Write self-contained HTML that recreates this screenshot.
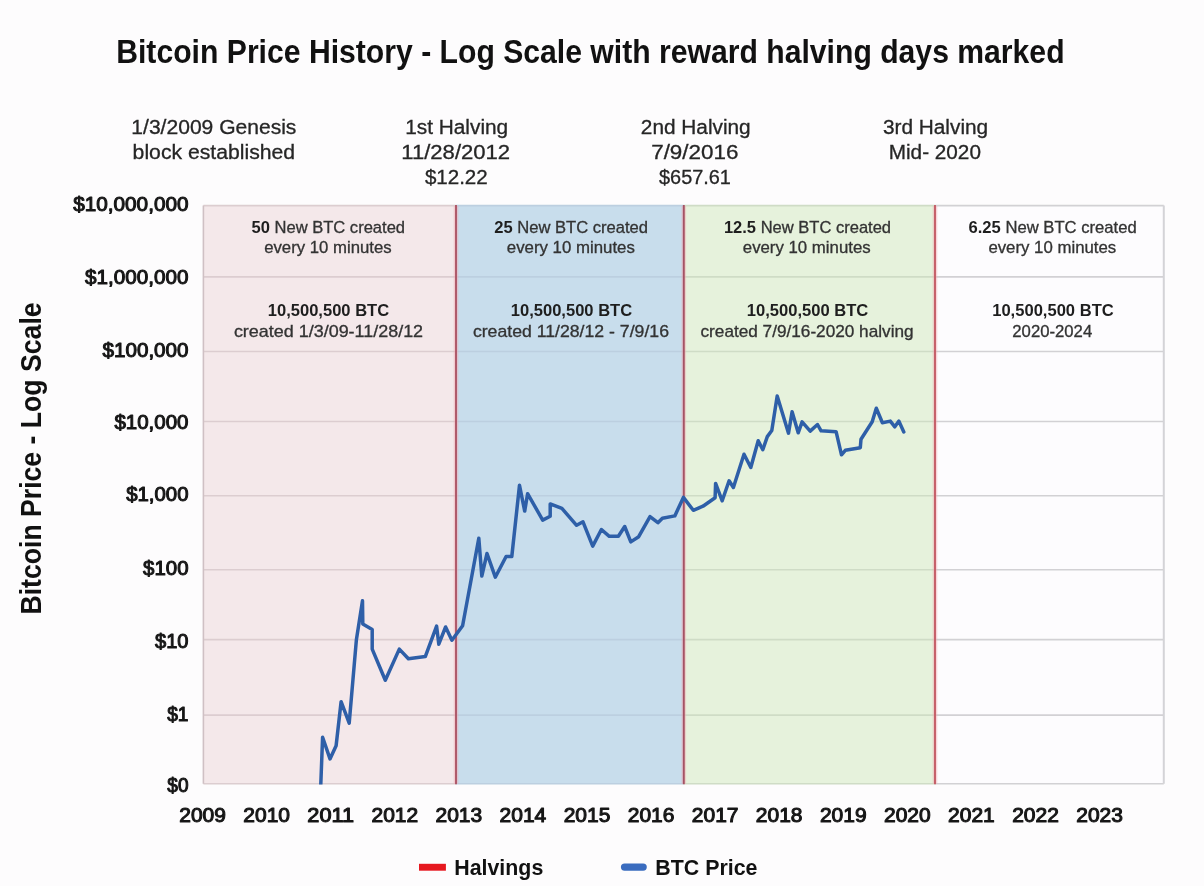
<!DOCTYPE html>
<html lang="en"><head><meta charset="utf-8">
<title>Bitcoin Price History - Log Scale with reward halving days marked</title>
<style>
html,body{margin:0;padding:0;background:#fdfcfd;}
body{width:1204px;height:886px;overflow:hidden;}
svg{display:block;}
text{font-family:"Liberation Sans", Arial, Helvetica, sans-serif;}
.b{font-weight:bold;}
.t{fill:#111;font-weight:bold;}
.a{fill:#262626;stroke:#262626;stroke-width:0.3px;}
.y{fill:#161616;stroke:#161616;stroke-width:1.05px;stroke-linejoin:round;}
.n{fill:#333;stroke:#333;stroke-width:0.3px;}
.nb{fill:#1e1e1e;font-weight:bold;stroke:none;}
</style></head><body>
<svg width="1204" height="886" viewBox="0 0 1204 886">
<rect x="0" y="0" width="1204" height="886" fill="#fdfcfd"/>
<defs><clipPath id="pc"><rect x="203.4" y="205.6" width="960.4" height="579.0"/></clipPath></defs>
<rect x="203.4" y="205.6" width="252.6" height="578.2" fill="#f4e8ea"/>
<rect x="456.0" y="205.6" width="227.8" height="578.2" fill="#c8ddec"/>
<rect x="683.8" y="205.6" width="251.2" height="578.2" fill="#e6f2dc"/>
<rect x="935.0" y="205.6" width="228.8" height="578.2" fill="#fdfcfe"/>
<line x1="203.4" y1="276.9" x2="456.0" y2="276.9" stroke="#dccdd0" stroke-width="1.6"/>
<line x1="456.0" y1="276.9" x2="683.8" y2="276.9" stroke="#bccfe0" stroke-width="1.6"/>
<line x1="683.8" y1="276.9" x2="935.0" y2="276.9" stroke="#cfdcc6" stroke-width="1.6"/>
<line x1="935.0" y1="276.9" x2="1163.8" y2="276.9" stroke="#d2d1d4" stroke-width="1.6"/>
<line x1="203.4" y1="351.5" x2="456.0" y2="351.5" stroke="#dccdd0" stroke-width="1.6"/>
<line x1="456.0" y1="351.5" x2="683.8" y2="351.5" stroke="#bccfe0" stroke-width="1.6"/>
<line x1="683.8" y1="351.5" x2="935.0" y2="351.5" stroke="#cfdcc6" stroke-width="1.6"/>
<line x1="935.0" y1="351.5" x2="1163.8" y2="351.5" stroke="#d2d1d4" stroke-width="1.6"/>
<line x1="203.4" y1="421.5" x2="456.0" y2="421.5" stroke="#dccdd0" stroke-width="1.6"/>
<line x1="456.0" y1="421.5" x2="683.8" y2="421.5" stroke="#bccfe0" stroke-width="1.6"/>
<line x1="683.8" y1="421.5" x2="935.0" y2="421.5" stroke="#cfdcc6" stroke-width="1.6"/>
<line x1="935.0" y1="421.5" x2="1163.8" y2="421.5" stroke="#d2d1d4" stroke-width="1.6"/>
<line x1="203.4" y1="495.7" x2="456.0" y2="495.7" stroke="#dccdd0" stroke-width="1.6"/>
<line x1="456.0" y1="495.7" x2="683.8" y2="495.7" stroke="#bccfe0" stroke-width="1.6"/>
<line x1="683.8" y1="495.7" x2="935.0" y2="495.7" stroke="#cfdcc6" stroke-width="1.6"/>
<line x1="935.0" y1="495.7" x2="1163.8" y2="495.7" stroke="#d2d1d4" stroke-width="1.6"/>
<line x1="203.4" y1="569.7" x2="456.0" y2="569.7" stroke="#dccdd0" stroke-width="1.6"/>
<line x1="456.0" y1="569.7" x2="683.8" y2="569.7" stroke="#bccfe0" stroke-width="1.6"/>
<line x1="683.8" y1="569.7" x2="935.0" y2="569.7" stroke="#cfdcc6" stroke-width="1.6"/>
<line x1="935.0" y1="569.7" x2="1163.8" y2="569.7" stroke="#d2d1d4" stroke-width="1.6"/>
<line x1="203.4" y1="639.6" x2="456.0" y2="639.6" stroke="#dccdd0" stroke-width="1.6"/>
<line x1="456.0" y1="639.6" x2="683.8" y2="639.6" stroke="#bccfe0" stroke-width="1.6"/>
<line x1="683.8" y1="639.6" x2="935.0" y2="639.6" stroke="#cfdcc6" stroke-width="1.6"/>
<line x1="935.0" y1="639.6" x2="1163.8" y2="639.6" stroke="#d2d1d4" stroke-width="1.6"/>
<line x1="203.4" y1="715.1" x2="456.0" y2="715.1" stroke="#dccdd0" stroke-width="1.6"/>
<line x1="456.0" y1="715.1" x2="683.8" y2="715.1" stroke="#bccfe0" stroke-width="1.6"/>
<line x1="683.8" y1="715.1" x2="935.0" y2="715.1" stroke="#cfdcc6" stroke-width="1.6"/>
<line x1="935.0" y1="715.1" x2="1163.8" y2="715.1" stroke="#d2d1d4" stroke-width="1.6"/>
<line x1="203.4" y1="205.6" x2="456.0" y2="205.6" stroke="#dccdd0" stroke-width="1.6"/>
<line x1="203.4" y1="783.8" x2="456.0" y2="783.8" stroke="#dccdd0" stroke-width="1.6"/>
<line x1="456.0" y1="205.6" x2="683.8" y2="205.6" stroke="#bccfe0" stroke-width="1.6"/>
<line x1="456.0" y1="783.8" x2="683.8" y2="783.8" stroke="#bccfe0" stroke-width="1.6"/>
<line x1="683.8" y1="205.6" x2="935.0" y2="205.6" stroke="#cfdcc6" stroke-width="1.6"/>
<line x1="683.8" y1="783.8" x2="935.0" y2="783.8" stroke="#cfdcc6" stroke-width="1.6"/>
<line x1="935.0" y1="205.6" x2="1163.8" y2="205.6" stroke="#d2d1d4" stroke-width="1.6"/>
<line x1="935.0" y1="783.8" x2="1163.8" y2="783.8" stroke="#d2d1d4" stroke-width="1.6"/>
<line x1="203.4" y1="205.6" x2="203.4" y2="783.8" stroke="#cfc0c4" stroke-width="1.6"/>
<line x1="1163.8" y1="205.6" x2="1163.8" y2="783.8" stroke="#d4d3d7" stroke-width="2"/>
<line x1="456.0" y1="206.1" x2="456.0" y2="783.8" stroke="#f2a8b0" stroke-opacity="0.45" stroke-width="4.6"/>
<line x1="456.0" y1="205.1" x2="456.0" y2="784.3" stroke="#ad5566" stroke-width="1.9"/>
<line x1="683.8" y1="206.1" x2="683.8" y2="783.8" stroke="#f2a8b0" stroke-opacity="0.45" stroke-width="4.6"/>
<line x1="683.8" y1="205.1" x2="683.8" y2="784.3" stroke="#a55264" stroke-width="1.9"/>
<line x1="935.0" y1="206.1" x2="935.0" y2="783.8" stroke="#f2a8b0" stroke-opacity="0.45" stroke-width="4.6"/>
<line x1="935.0" y1="205.1" x2="935.0" y2="784.3" stroke="#c45c66" stroke-width="1.9"/>
<polyline fill="none" stroke="#2e5fa8" stroke-width="3.5" stroke-linejoin="round" stroke-linecap="round" clip-path="url(#pc)" points="320.8,784.1 322.6,737.2 330.0,758.9 336.1,745.8 341.1,701.7 349.2,723.2 356.4,639.7 362.5,600.8 362.8,623.9 372.2,629.5 372.2,649.1 385.3,680.3 399.3,649.1 408.4,658.8 425.3,656.6 436.6,626.1 438.8,644.2 445.6,627.0 451.9,640.2 462.6,625.8 478.8,538.2 481.8,576.1 487.0,553.5 495.3,577.2 506.1,556.5 511.8,556.5 519.5,485.3 524.7,511.1 527.6,493.7 542.7,520.1 550.2,516.3 550.2,503.9 561.9,508.4 576.6,525.3 583.0,521.8 592.7,546.1 601.4,529.5 609.3,536.3 618.4,536.3 624.7,526.5 630.8,541.9 638.7,536.7 650.0,516.6 657.9,522.7 662.4,518.2 674.8,515.9 683.4,497.4 693.3,510.3 703.0,506.2 715.1,497.7 715.6,483.4 722.2,500.8 729.1,480.8 733.4,487.5 744.0,454.2 750.8,467.5 758.2,440.7 762.8,449.7 767.3,436.6 771.8,430.5 777.2,396.0 788.5,433.2 792.1,411.8 798.2,432.8 802.1,421.8 810.2,431.1 817.5,424.5 821.1,430.8 836.1,431.7 841.5,454.8 845.3,450.3 860.3,447.7 861.0,439.2 872.2,421.8 876.3,408.2 882.4,422.7 890.3,421.1 894.8,426.8 898.9,421.1 903.8,432.0"/>
<text x="116.23" y="62.7" font-size="34.0" class="t" textLength="948.34" lengthAdjust="spacingAndGlyphs">Bitcoin Price History - Log Scale with reward halving days marked</text>
<text x="131.35" y="134.3" font-size="20.0" class="a" textLength="165.05" lengthAdjust="spacingAndGlyphs">1/3/2009 Genesis</text>
<text x="132.64" y="159.1" font-size="20.0" class="a" textLength="162.45" lengthAdjust="spacingAndGlyphs">block established</text>
<text x="405.16" y="134.3" font-size="20.0" class="a" textLength="103.01" lengthAdjust="spacingAndGlyphs">1st Halving</text>
<text x="401.30" y="159.1" font-size="20.0" class="a" textLength="108.84" lengthAdjust="spacingAndGlyphs">11/28/2012</text>
<text x="424.90" y="184.1" font-size="20.0" class="a" textLength="62.83" lengthAdjust="spacingAndGlyphs">$12.22</text>
<text x="640.86" y="134.3" font-size="20.0" class="a" textLength="109.81" lengthAdjust="spacingAndGlyphs">2nd Halving</text>
<text x="651.18" y="159.1" font-size="20.0" class="a" textLength="87.26" lengthAdjust="spacingAndGlyphs">7/9/2016</text>
<text x="659.00" y="184.1" font-size="20.0" class="a" textLength="71.92" lengthAdjust="spacingAndGlyphs">$657.61</text>
<text x="882.90" y="134.3" font-size="20.0" class="a" textLength="105.27" lengthAdjust="spacingAndGlyphs">3rd Halving</text>
<text x="888.76" y="159.1" font-size="20.0" class="a" textLength="92.16" lengthAdjust="spacingAndGlyphs">Mid- 2020</text>
<text x="73.20" y="210.8" font-size="20.2" class="y" textLength="115.33" lengthAdjust="spacingAndGlyphs">$10,000,000</text>
<text x="85.10" y="283.6" font-size="20.2" class="y" textLength="103.43" lengthAdjust="spacingAndGlyphs">$1,000,000</text>
<text x="102.50" y="356.7" font-size="20.2" class="y" textLength="86.03" lengthAdjust="spacingAndGlyphs">$100,000</text>
<text x="114.40" y="428.7" font-size="20.2" class="y" textLength="74.13" lengthAdjust="spacingAndGlyphs">$10,000</text>
<text x="126.20" y="501.1" font-size="20.2" class="y" textLength="62.33" lengthAdjust="spacingAndGlyphs">$1,000</text>
<text x="143.10" y="574.5" font-size="20.2" class="y" textLength="45.43" lengthAdjust="spacingAndGlyphs">$100</text>
<text x="155.00" y="648.1" font-size="20.2" class="y" textLength="33.53" lengthAdjust="spacingAndGlyphs">$10</text>
<text x="167.20" y="721.1" font-size="20.2" class="y" textLength="21.32" lengthAdjust="spacingAndGlyphs">$1</text>
<text x="167.30" y="792.2" font-size="20.2" class="y" textLength="21.21" lengthAdjust="spacingAndGlyphs">$0</text>
<text x="179.26" y="821.6" font-size="20.2" class="y" textLength="46.68" lengthAdjust="spacingAndGlyphs">2009</text>
<text x="243.33" y="821.6" font-size="20.2" class="y" textLength="46.68" lengthAdjust="spacingAndGlyphs">2010</text>
<text x="307.36" y="821.6" font-size="20.2" class="y" textLength="46.72" lengthAdjust="spacingAndGlyphs">2011</text>
<text x="371.47" y="821.6" font-size="20.2" class="y" textLength="46.68" lengthAdjust="spacingAndGlyphs">2012</text>
<text x="435.54" y="821.6" font-size="20.2" class="y" textLength="46.68" lengthAdjust="spacingAndGlyphs">2013</text>
<text x="499.61" y="821.6" font-size="20.2" class="y" textLength="46.68" lengthAdjust="spacingAndGlyphs">2014</text>
<text x="563.68" y="821.6" font-size="20.2" class="y" textLength="46.68" lengthAdjust="spacingAndGlyphs">2015</text>
<text x="627.75" y="821.6" font-size="20.2" class="y" textLength="46.68" lengthAdjust="spacingAndGlyphs">2016</text>
<text x="691.82" y="821.6" font-size="20.2" class="y" textLength="46.68" lengthAdjust="spacingAndGlyphs">2017</text>
<text x="755.89" y="821.6" font-size="20.2" class="y" textLength="46.68" lengthAdjust="spacingAndGlyphs">2018</text>
<text x="819.96" y="821.6" font-size="20.2" class="y" textLength="46.68" lengthAdjust="spacingAndGlyphs">2019</text>
<text x="884.03" y="821.6" font-size="20.2" class="y" textLength="46.68" lengthAdjust="spacingAndGlyphs">2020</text>
<text x="948.10" y="821.6" font-size="20.2" class="y" textLength="46.68" lengthAdjust="spacingAndGlyphs">2021</text>
<text x="1012.17" y="821.6" font-size="20.2" class="y" textLength="46.68" lengthAdjust="spacingAndGlyphs">2022</text>
<text x="1076.24" y="821.6" font-size="20.2" class="y" textLength="46.68" lengthAdjust="spacingAndGlyphs">2023</text>
<text x="251.50" y="232.6" font-size="15.7" class="n" textLength="153.56" lengthAdjust="spacingAndGlyphs"><tspan class="nb">50</tspan> New BTC created</text>
<text x="264.20" y="252.8" font-size="15.7" class="n" textLength="127.43" lengthAdjust="spacingAndGlyphs">every 10 minutes</text>
<text x="267.80" y="316.3" font-size="15.7" class="nb" textLength="121.35" lengthAdjust="spacingAndGlyphs">10,500,500 BTC</text>
<text x="233.90" y="336.7" font-size="15.7" class="n" textLength="189.23" lengthAdjust="spacingAndGlyphs">created 1/3/09-11/28/12</text>
<text x="494.30" y="232.6" font-size="15.7" class="n" textLength="153.77" lengthAdjust="spacingAndGlyphs"><tspan class="nb">25</tspan> New BTC created</text>
<text x="506.80" y="252.8" font-size="15.7" class="n" textLength="128.03" lengthAdjust="spacingAndGlyphs">every 10 minutes</text>
<text x="510.80" y="316.3" font-size="15.7" class="nb" textLength="121.35" lengthAdjust="spacingAndGlyphs">10,500,500 BTC</text>
<text x="472.90" y="336.7" font-size="15.7" class="n" textLength="196.09" lengthAdjust="spacingAndGlyphs">created 11/28/12 - 7/9/16</text>
<text x="723.90" y="232.6" font-size="15.7" class="n" textLength="167.16" lengthAdjust="spacingAndGlyphs"><tspan class="nb">12.5</tspan> New BTC created</text>
<text x="742.80" y="252.8" font-size="15.7" class="n" textLength="127.83" lengthAdjust="spacingAndGlyphs">every 10 minutes</text>
<text x="746.80" y="316.3" font-size="15.7" class="nb" textLength="121.55" lengthAdjust="spacingAndGlyphs">10,500,500 BTC</text>
<text x="700.50" y="336.7" font-size="15.7" class="n" textLength="213.09" lengthAdjust="spacingAndGlyphs">created 7/9/16-2020 halving</text>
<text x="968.50" y="232.6" font-size="15.7" class="n" textLength="168.17" lengthAdjust="spacingAndGlyphs"><tspan class="nb">6.25</tspan> New BTC created</text>
<text x="988.40" y="252.8" font-size="15.7" class="n" textLength="127.83" lengthAdjust="spacingAndGlyphs">every 10 minutes</text>
<text x="992.20" y="316.3" font-size="15.7" class="nb" textLength="121.55" lengthAdjust="spacingAndGlyphs">10,500,500 BTC</text>
<text x="1012.30" y="336.7" font-size="15.7" class="n" textLength="79.91" lengthAdjust="spacingAndGlyphs">2020-2024</text>
<text transform="translate(40.9,612.8) rotate(-90)" x="-1.75" y="0" font-size="30.4" class="t" textLength="312.14" lengthAdjust="spacingAndGlyphs">Bitcoin Price - Log Scale</text>
<rect x="419" y="863.8" width="26.9" height="6.9" fill="#e6181f"/>
<text x="454.24" y="874.9" font-size="22.3" class="t" textLength="89.04" lengthAdjust="spacingAndGlyphs">Halvings</text>
<line x1="624.6" y1="867.1" x2="643.1" y2="867.1" stroke="#3a6cbf" stroke-width="7.4" stroke-linecap="round"/>
<text x="655.24" y="874.9" font-size="22.3" class="t" textLength="102.24" lengthAdjust="spacingAndGlyphs">BTC Price</text>
</svg>
</body></html>
